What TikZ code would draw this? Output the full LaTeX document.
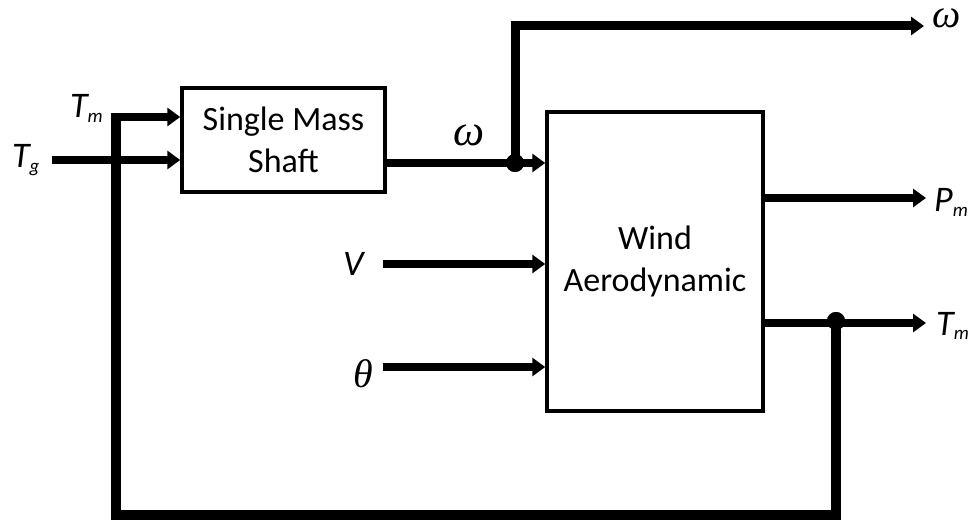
\documentclass[tikz,border=0pt]{standalone}
\usepackage{fontspec}
\setmainfont{Carlito}
\newfontfamily\grkfont{Liberation Serif}
\usetikzlibrary{arrows.meta}
\newcommand\sublab[2]{#1\raisebox{-5pt}{\fontsize{19}{19}\selectfont #2}}
\begin{document}
\begin{tikzpicture}[x=1pt,y=-1pt,
  blk/.style={draw,line width=3.5pt,inner sep=0pt,align=center,
    font=\fontsize{34}{42}\selectfont},
  sig/.style={line width=8pt,line join=miter,-{Triangle[length=13pt,width=18pt]}},
  fbline/.style={line width=10pt,line join=miter},
  lbl/.style={inner sep=0pt,anchor=base west,font=\fontsize{36}{40}\selectfont\itshape},
  glbl/.style={inner sep=0pt,anchor=base west,font=\fontsize{44}{44}\selectfont\grkfont\itshape},
  jdot/.style={circle,fill,minimum size=18pt,inner sep=0pt}
]
\useasboundingbox (0,0) rectangle (972,521);
\fill[white] (0,0) rectangle (972,521);

% blocks
\node[blk,minimum width=203pt,minimum height=104pt] (sms) at (283.5,140) {Single Mass\\Shaft};
\node[blk,minimum width=216pt,minimum height=299pt] (wa) at (655,261.5) {Wind\\Aerodynamic};

% labels
\node[lbl] (tmin) at (70,118) {\sublab{T}{m}};
\node[lbl] (tgin) at (12,168) {\sublab{T}{g}};
\node[glbl] (wmid) at (453,146) {ω};
\node[lbl] (vin) at (343,276) {V};
\node[glbl,font=\fontsize{40}{40}\selectfont\grkfont\itshape] (thin) at (353,387) {θ};
\node[glbl,font=\fontsize{40}{40}\selectfont\grkfont\itshape] (wout) at (932,28) {ω};
\node[lbl] (pmout) at (934,212) {\sublab{P}{m}};
\node[lbl] (tmout) at (936,335) {\sublab{T}{m}};

% coordinates
\coordinate (tgstart) at (52,160);
\coordinate (tmstart) at (111,117);
\coordinate (vstart) at (383,264);
\coordinate (thstart) at (383,367);
\coordinate (fbcornerA) at (836,515);
\coordinate (fbcornerB) at (116,515);
\coordinate (fbtop) at (116,113);
\coordinate (wtop) at (515,26);
\coordinate (wend) at (924,26);
\coordinate (pmend) at (926,198);
\coordinate (tmend) at (926,323);

% junction dots
\node[jdot] (d1) at (515,163) {};
\node[jdot] (d2) at (836,321) {};

% signals
\draw[sig] (tgstart) -- (tgstart -| sms.west);
\draw[fbline] (d2.center) -- (fbcornerA) -- (fbcornerB) -- (fbtop);
\draw[sig] (tmstart) -- (tmstart -| sms.west);
\draw[sig] (sms.east |- d1) -- (d1.center) -- (d1 -| wa.west);
\draw[sig,line width=9pt] (d1.center) -- (wtop) -- (wend);
\draw[sig] (vstart) -- (vstart -| wa.west);
\draw[sig] (thstart) -- (thstart -| wa.west);
\draw[sig] (wa.east |- pmend) -- (pmend);
\draw[sig] (wa.east |- tmend) -- (tmend);
\node[jdot] at (d1) {};
\node[jdot] at (d2) {};
\end{tikzpicture}
\end{document}
